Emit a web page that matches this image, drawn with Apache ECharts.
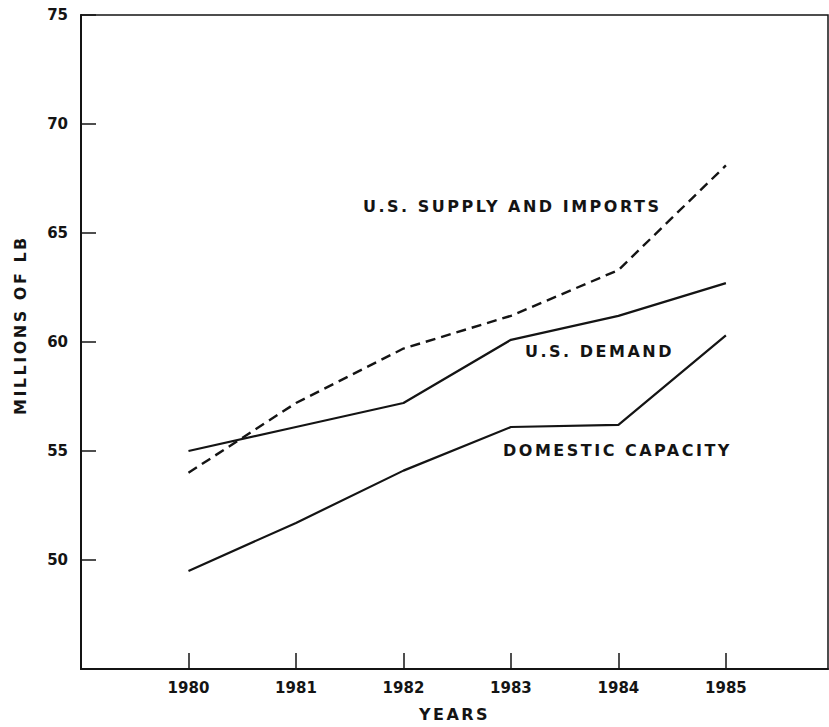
<!DOCTYPE html>
<html>
<head>
<meta charset="utf-8">
<script src="https://cdn.jsdelivr.net/npm/echarts@6/dist/echarts.min.js"></script>
<style>
    html, body { margin: 0; padding: 0; background: #fff; }
    #chart { width: 829px; height: 727px; }
    /* typewriter-like wide spacing for the big labels */
    #chart text[style*="16px"] { letter-spacing: 2.5px; }
</style>
</head>
<body>
<div id="chart"></div>
<script>
var years = [1980, 1981, 1982, 1983, 1984, 1985];
var yTicks = [50, 55, 60, 65, 70, 75];
var capacity = [49.5, 51.7, 54.1, 56.1, 56.2, 60.3];
var demand = [55.0, 56.1, 57.2, 60.1, 61.2, 62.7];
var supply = [54.0, 57.2, 59.7, 61.2, 63.3, 68.1];

function pairs(vals){
    return years.map(function(y, i){ return [y, vals[i]]; });
}

(function(){
    var chart = echarts.init(document.getElementById('chart'), null, {renderer: 'svg'});
    var ink = '#141414';
    var font = 'DejaVu Sans';
    var labelFont = 'bold 16px "DejaVu Sans"';
    var option = {
        backgroundColor: '#fff',
        animation: false,
        grid: {
            show: true,
            left: 81,
            right: 1,
            top: 15,
            bottom: 55,
            borderColor: ink,
            borderWidth: 1.5,
            containLabel: false
        },
        xAxis: {
            type: 'value',
            min: 1979,
            max: 1985.95,
            name: 'YEARS',
            nameLocation: 'middle',
            nameGap: 37,
            nameTextStyle: { color: ink, fontFamily: font, fontSize: 16, fontWeight: 'bold' },
            axisLine: { lineStyle: { color: ink, width: 2 } },
            axisTick: { inside: true, length: 16, customValues: years, lineStyle: { color: ink, width: 1.5 } },
            axisLabel: {
                customValues: years, color: ink, fontFamily: font, fontSize: 15, fontWeight: 'bold', margin: 11,
                formatter: function(v){ return String(v); }
            },
            splitLine: { show: false }
        },
        yAxis: {
            type: 'value',
            min: 45,
            max: 75,
            axisLine: { lineStyle: { color: ink, width: 2 } },
            axisTick: { inside: true, length: 15, customValues: yTicks, lineStyle: { color: ink, width: 1.5 } },
            axisLabel: { customValues: yTicks, color: ink, fontFamily: font, fontSize: 15, fontWeight: 'bold', margin: 13 },
            splitLine: { show: false }
        },
        graphic: [
            { type: 'text', left: 363, top: 198, style: { text: 'U.S. SUPPLY AND IMPORTS', fill: ink, font: labelFont } },
            { type: 'text', left: 525, top: 343, style: { text: 'U.S. DEMAND', fill: ink, font: labelFont } },
            { type: 'text', left: 503, top: 442, style: { text: 'DOMESTIC CAPACITY', fill: ink, font: labelFont } },
            { type: 'text', x: 12, y: 415, rotation: Math.PI / 2, style: { text: 'MILLIONS OF LB', fill: ink, font: labelFont } }
        ],
        series: [
            {
                name: 'U.S. SUPPLY AND IMPORTS',
                type: 'line',
                symbol: 'none',
                lineStyle: { color: ink, width: 2.4, type: [10, 6] },
                data: pairs(supply)
            },
            {
                name: 'U.S. DEMAND',
                type: 'line',
                symbol: 'none',
                lineStyle: { color: ink, width: 2.2 },
                data: pairs(demand)
            },
            {
                name: 'DOMESTIC CAPACITY',
                type: 'line',
                symbol: 'none',
                lineStyle: { color: ink, width: 2.2 },
                data: pairs(capacity)
            }
        ]
    };
    chart.setOption(option);
    window.addEventListener('resize', function(){
        chart.resize();
    });
})();
</script>
</body>
</html>
